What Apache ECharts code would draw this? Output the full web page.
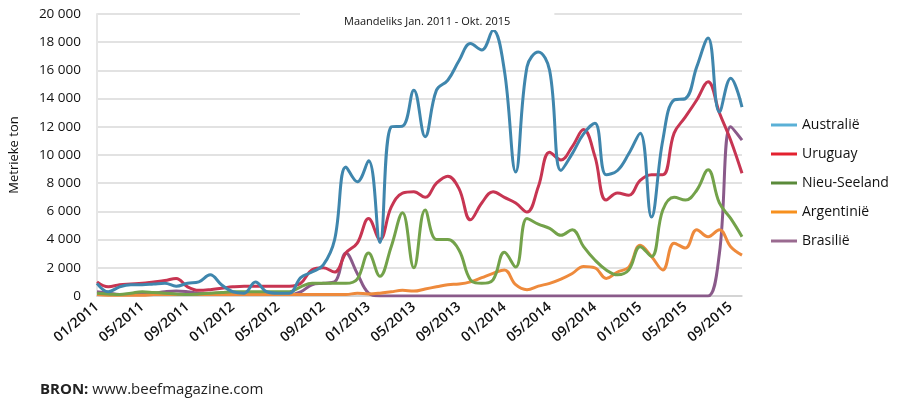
<!DOCTYPE html>
<html>
<head>
<meta charset="utf-8">
<script src="https://cdn.jsdelivr.net/npm/echarts@6/dist/echarts.min.js"></script>
<style>
  html, body { margin: 0; padding: 0; background: #fff; }
  #chart { width: 902px; height: 404px; }
</style>
</head>
<body>
<div id="chart"></div>
<script>
// monthly, Jan 2011 - Oct 2015
var months = [];
for (var y = 2011; y <= 2015; y++) {
    for (var m = 1; m <= 12; m++) {
        if (y === 2015 && m > 10) break;
        months.push((m < 10 ? '0' + m : '' + m) + '/' + y);
    }
}

var australie = [900, 300, 650, 800, 800, 850, 900, 700, 900, 1000, 1500, 800, 300, 200, 1000, 300,
    200, 200, 1300, 1700, 2200, 4000, 9150, 8100, 9600, 3800, 12000, 12050, 14600, 11300, 14600, 15300,
    16700, 17900, 17450, 18850, 16000, 8800, 16250, 17300, 16000, 8900, 10100, 11500, 12250, 8600,
    8900, 10100, 11550, 5600, 11050, 13900, 14000, 16250, 18300, 13050, 15450, 13400];
var uruguay = [1000, 650, 800, 850, 900, 1000, 1100, 1250, 650, 400, 450, 550, 650, 700, 700, 700,
    700, 700, 900, 1850, 2000, 1700, 3050, 3750, 5500, 4000, 6300, 7300, 7400, 7000, 8000, 8500,
    7600, 5400, 6600, 7400, 7000, 6600, 5950, 7750, 10200, 9650, 10600, 11800, 9900, 6800,
    7300, 7150, 8200, 8600, 8600, 11550, 12700, 13900, 15200, 13000, 11050, 8700];
var nieuSeeland = [200, 150, 100, 200, 300, 250, 200, 150, 100, 150, 200, 250, 300, 300, 300, 300,
    300, 300, 650, 900, 900, 900, 900, 1200, 3050, 1400, 3500, 5900, 2000, 6100, 4000, 4000,
    3250, 1150, 900, 1150, 3100, 2050, 5500, 5100, 4800, 4300, 4700, 3500, 2550, 1850,
    1500, 1850, 3500, 2800, 6100, 7000, 6800, 7500, 8950, 6600, 5500, 4200];
var argentinie = [100, 50, 50, 50, 50, 100, 100, 100, 100, 100, 100, 100, 100, 100, 100, 100,
    100, 100, 100, 100, 100, 100, 100, 200, 150, 200, 300, 400, 350, 500, 650, 800,
    850, 1000, 1300, 1600, 1850, 800, 450, 700, 900, 1200, 1600, 2100, 2000, 1250,
    1700, 2050, 3600, 2800, 1850, 3750, 3400, 4700, 4200, 4700, 3500, 2900];
var brasilie = [300, 200, 100, 100, 150, 200, 300, 350, 300, 200, 150, 100, 100, 150, 200, 150,
    100, 100, 300, 800, 900, 1000, 3050, 1600, 200, 0, 0, 0, 0, 0, 0, 0,
    0, 0, 0, 0, 0, 0, 0, 0, 0, 0, 0, 0, 0, 0,
    0, 0, 0, 0, 0, 0, 0, 0, 0, 3000, 12000, 11050];

var names = ['Australië', 'Uruguay', 'Nieu-Seeland', 'Argentinië', 'Brasilië'];
var lineColors = ['#3f86ad', '#c73552', '#73a24a', '#ee8a3c', '#8a5a8a'];
var legendColors = ['#5ab0d6', '#e3212f', '#5a8a3a', '#f7901e', '#9a6a90'];
var allData = [australie, uruguay, nieuSeeland, argentinie, brasilie];

var font = 'Open Sans';

function fmt(v) {
    var num = String(v), result = '';
    while (num.length > 3) {
        result = ' ' + num.slice(-3) + result;
        num = num.slice(0, num.length - 3);
    }
    return num + result;
}

var series = [];
for (var k = allData.length - 1; k >= 0; k--) {
    series.push({
        name: names[k],
        type: 'line',
        smooth: 0.4,
        symbol: 'none',
        data: allData[k],
        itemStyle: { color: legendColors[k] },
        lineStyle: { color: lineColors[k], width: 3 }
    });
}

var myChart = echarts.init(document.getElementById('chart'));
var option = {
    animation: false,
    backgroundColor: '#fff',
    title: {
        text: 'Maandeliks Jan. 2011 - Okt. 2015',
        left: 300,
        top: 13,
        backgroundColor: '#fff',
        padding: [3, 44, 3, 44],
        textStyle: { fontFamily: font, fontSize: 11, fontWeight: 'normal', color: '#111' }
    },
    grid: { left: 90, right: 160, top: 14, bottom: 108 },
    legend: {
        orient: 'vertical',
        left: 766,
        top: 113,
        itemWidth: 26,
        itemHeight: 3,
        itemGap: 15,
        icon: 'rect',
        textStyle: { fontFamily: font, fontSize: 14, color: '#111' },
        data: names.map(function (n, i) {
            return { name: n, itemStyle: { color: legendColors[i] } };
        })
    },
    xAxis: {
        type: 'category',
        data: months,
        boundaryGap: false,
        axisLine: { lineStyle: { color: '#d0d0d0', width: 1.5 } },
        axisTick: { show: false },
        axisLabel: {
            interval: 3,
            rotate: 40,
            margin: 9,
            fontFamily: font,
            fontSize: 14,
            fontWeight: 600,
            color: '#111'
        }
    },
    yAxis: {
        type: 'value',
        min: 0,
        max: 20000,
        interval: 2000,
        name: 'Metrieke ton',
        nameLocation: 'middle',
        nameRotate: 90,
        nameGap: 76,
        nameTextStyle: { fontFamily: font, fontSize: 13, color: '#111' },
        axisLine: { show: true, lineStyle: { color: '#e6e6e6', width: 2 } },
        axisTick: { show: false },
        axisLabel: {
            formatter: fmt,
            margin: 16,
            fontFamily: font,
            fontSize: 13.5,
            color: '#111'
        },
        splitLine: { lineStyle: { color: '#d8d8d8', width: 1.5 } }
    },
    graphic: [{
        type: 'text',
        left: 40,
        top: 382,
        style: {
            text: '{b|BRON:} www.beefmagazine.com',
            fill: '#222',
            font: '15px "' + font + '"',
            rich: {
                b: { fontWeight: 'bold', fontSize: 15, fontFamily: font, fill: '#222' }
            }
        }
    }],
    series: series
};

myChart.setOption(option);

window.onresize = function () {
    myChart.resize();
};
</script>
</body>
</html>
